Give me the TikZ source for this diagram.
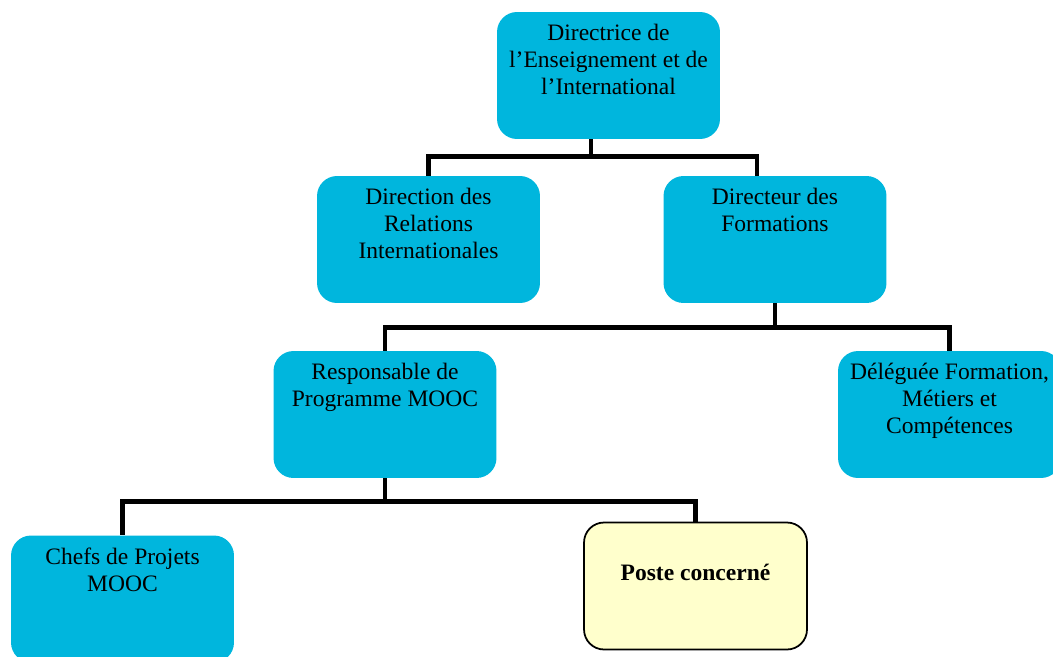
\documentclass[tikz,border=0pt]{standalone}
\usepackage{fontspec}
\setmainfont{Liberation Serif}
\usetikzlibrary{positioning}
\definecolor{unitblue}{RGB}{0,182,221}
\definecolor{posteyellow}{RGB}{255,255,204}

\begin{document}
\begin{tikzpicture}[x=0.02cm, y=-0.02cm,
    unit/.style={rectangle, rounded corners=0.4cm, fill=unitblue, minimum width=4.46cm, minimum height=2.54cm, inner sep=0pt},
    poste/.style={unit, fill=posteyellow, draw=black, line width=1pt},
    caption/.style={align=center, inner sep=0pt, font=\fontsize{13.4}{15.4}\selectfont},
    link/.style={line width=2.8pt}]
    \useasboundingbox (0,0) rectangle (1053,656);

    \node[unit] (Directrice) at (608.5,75.5) {};
    \node[unit] (Relations) at (428.5,239.5) {};
    \node[unit] (Formations) at (775,239.5) {};
    \node[unit] (Responsable) at (385,414.5) {};
    \node[unit] (Deleguee) at (949.5,414.5) {};
    \node[unit] (Chefs) at (122.5,599) {};
    \node[poste] (Poste) at (695.5,586) {};

    \node[caption, below=0.24cm of Directrice.north] (DirectriceText) {Directrice de\\l’Enseignement et de\\l’International};
    \node[caption, below=0.24cm of Relations.north] (RelationsText) {Direction des\\Relations\\Internationales};
    \node[caption, below=0.24cm of Formations.north] (FormationsText) {Directeur des\\Formations};
    \node[caption, below=0.24cm of Responsable.north] (ResponsableText) {Responsable de\\Programme MOOC};
    \node[caption, below=0.24cm of Deleguee.north] (DelegueeText) {Déléguée Formation,\\Métiers et\\Compétences};
    \node[caption, below=0.24cm of Chefs.north] (ChefsText) {Chefs de Projets\\MOOC};
    \node[caption, font=\fontsize{13.4}{15.4}\selectfont\bfseries, below=0.84cm of Poste.north] (PosteText) {Poste concerné};

    \draw[link] ([xshift=-0.35cm]Directrice.south) -- ++(0,17) -| (Relations.north);
    \draw[link] ([xshift=-0.35cm]Directrice.south) -- ++(0,17) -| ([xshift=-0.36cm]Formations.north);
    \draw[link] (Formations.south) -- ++(0,24) -| (Responsable.north);
    \draw[link] (Formations.south) -- ++(0,24) -| (Deleguee.north);
    \draw[link] (Responsable.south) -- ++(0,23) -| (Chefs.north);
    \draw[link] (Responsable.south) -- ++(0,23) -| (Poste.north);
\end{tikzpicture}
\end{document}
